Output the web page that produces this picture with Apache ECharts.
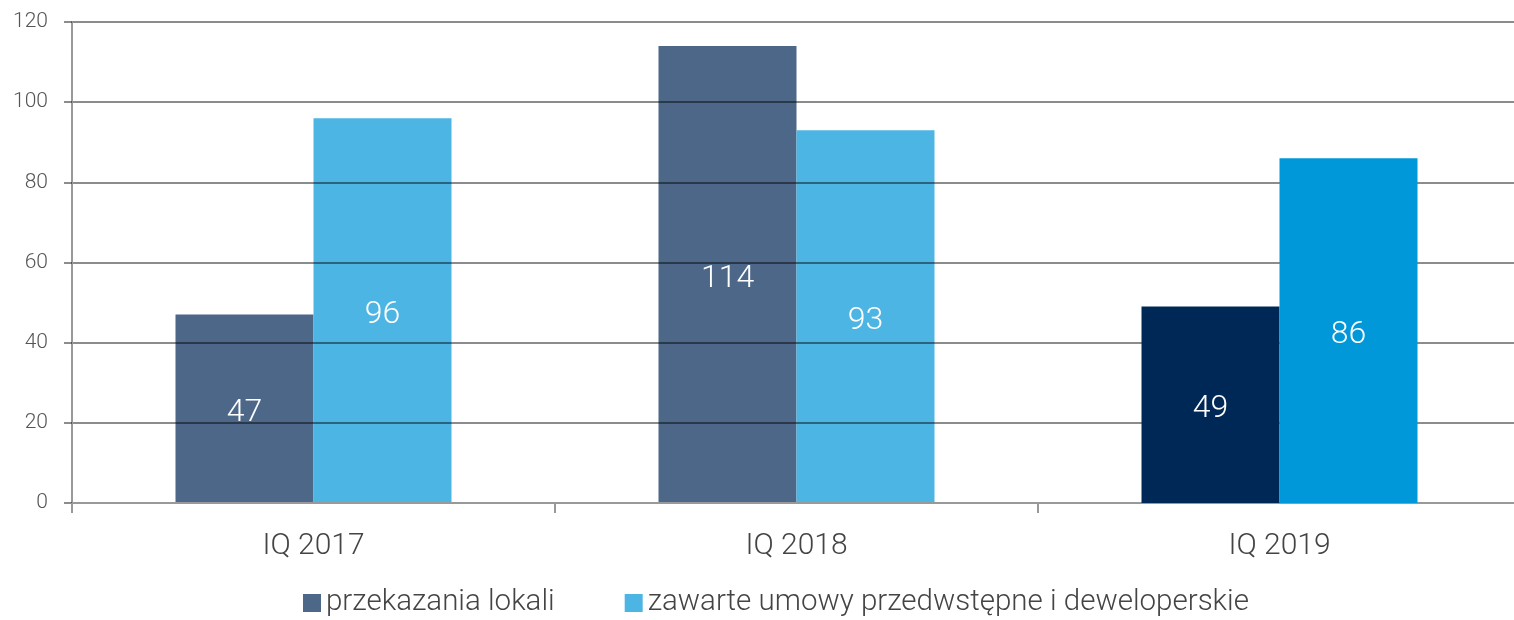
<!DOCTYPE html>
<html>
<head>
<meta charset="utf-8">
<script src="https://cdn.jsdelivr.net/npm/echarts@6/dist/echarts.min.js"></script>
<style>
html, body { margin: 0; padding: 0; background: #fff; }
#chart { width: 1514px; height: 620px; }
</style>
</head>
<body>
<div id="chart"></div>
<script>
var categories = ['IQ 2017', 'IQ 2018', 'IQ 2019'];
var seriesNames = ['przekazania lokali', 'zawarte umowy przedwstępne i deweloperskie'];
// przekazania lokali
var handovers = [47, 114, 49];
// zawarte umowy
var contracts = [96, 93, 86];

var colors = ['#4C6788', '#4DB5E4'];
var colors2019 = ['#002856', '#0098D8'];
var FONT = 'Roboto';

// the 2019 bars are drawn over the grid lines, the others under them
function part(arr, last) {
    return arr.map(function (v, i) {
        return (i === arr.length - 1) === last ? v : '-';
    });
}

var labelStyle = {
    show: true,
    position: 'inside',
    offset: [0, 4],
    color: '#fff',
    fontFamily: FONT,
    fontWeight: 300,
    fontSize: 32
};

var chart = echarts.init(document.getElementById('chart'));
chart.setOption({
    animation: false,
    textStyle: { fontFamily: FONT },
    grid: { left: 72, width: 1449, top: 22, bottom: 117, containLabel: false, outerBoundsMode: 'none' },
    legend: {
        bottom: -3,
        left: 298,
        itemWidth: 18,
        itemHeight: 18,
        itemGap: 70,
        icon: 'rect',
        textStyle: { fontFamily: FONT, fontWeight: 300, fontSize: 29.5, color: '#444' },
        data: seriesNames
    },
    xAxis: {
        type: 'category',
        data: categories,
        axisLine: { lineStyle: { color: '#999', width: 2 } },
        axisTick: { show: true, length: 10, lineStyle: { color: '#999', width: 2 } },
        axisLabel: { margin: 28, fontFamily: FONT, fontWeight: 300, fontSize: 30, color: '#444' },
        z: 0
    },
    yAxis: {
        type: 'value',
        min: 0,
        max: 120,
        interval: 20,
        axisLine: { show: true, lineStyle: { color: '#999', width: 2 } },
        axisTick: { show: true, length: 8, lineStyle: { color: 'rgba(0,0,0,0.45)', width: 2 } },
        splitLine: { lineStyle: { color: 'rgba(0,0,0,0.45)', width: 2 } },
        axisLabel: { margin: 24, fontFamily: FONT, fontWeight: 300, fontSize: 21, color: '#555' },
        z: 0
    },
    series: [{
        name: seriesNames[0],
        type: 'bar',
        stack: 'a',
        z: -1,
        barWidth: 138,
        barGap: '0%',
        itemStyle: { color: colors[0] },
        label: labelStyle,
        data: part(handovers, false)
    }, {
        name: seriesNames[1],
        type: 'bar',
        stack: 'b',
        z: -1,
        barWidth: 138,
        barGap: '0%',
        itemStyle: { color: colors[1] },
        label: labelStyle,
        data: part(contracts, false)
    }, {
        name: seriesNames[0] + ' 2019',
        type: 'bar',
        stack: 'a',
        z: 3,
        barWidth: 138,
        barGap: '0%',
        itemStyle: { color: colors2019[0] },
        label: labelStyle,
        data: part(handovers, true)
    }, {
        name: seriesNames[1] + ' 2019',
        type: 'bar',
        stack: 'b',
        z: 3,
        barWidth: 138,
        barGap: '0%',
        itemStyle: { color: colors2019[1] },
        label: labelStyle,
        data: part(contracts, true)
    }]
});
</script>
</body>
</html>
